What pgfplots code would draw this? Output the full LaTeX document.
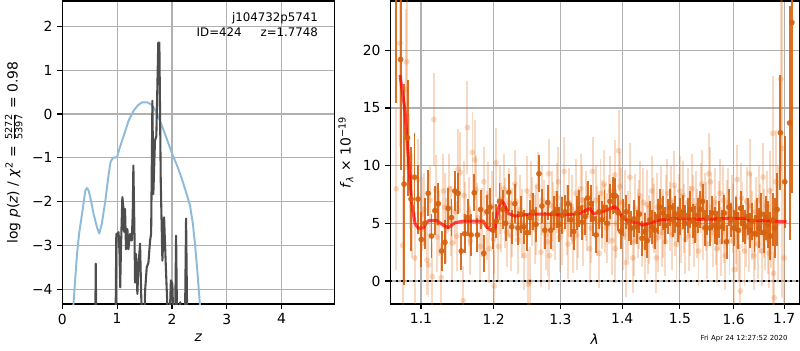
\documentclass[border=0pt]{standalone}
\usepackage{pgfplots}
\pgfplotsset{compat=1.18}
\usepackage{pgfplotstable}
\usepackage{fontspec}
\setmainfont{DejaVu Sans}
\definecolor{dk}{RGB}{214,96,12}
\definecolor{lt}{RGB}{228,108,24}
\definecolor{blu}{RGB}{143,187,217}
\definecolor{blk}{RGB}{77,77,77}
\definecolor{gridc}{RGB}{176,176,176}

\pgfplotstableread{
x y
0.600 -5.0
0.610 -3.42
0.620 -5.0
0.970 -5.0
0.985 -2.74
1.000 -2.74
1.026 -2.70
1.044 -3.20
1.056 -3.96
1.070 -3.05
1.095 -1.90
1.113 -2.13
1.126 -2.69
1.144 -2.17
1.162 -3.09
1.187 -2.63
1.205 -3.09
1.236 -2.74
1.266 -2.89
1.284 -2.30
1.296 -1.18
1.316 -2.74
1.327 -3.85
1.345 -3.20
1.369 -4.11
1.387 -3.50
1.418 -2.96
1.440 -4.20
1.465 -5.0
1.490 -5.0
1.510 -4.03
1.540 -3.50
1.570 -3.40
1.600 -2.90
1.620 -2.73
1.643 0.30
1.660 -1.83
1.690 -0.61
1.715 -0.50
1.750 1.63
1.770 1.63
1.795 -1.52
1.825 -3.35
1.856 -2.36
1.887 -3.45
1.916 -4.40
1.950 -5.0
1.980 -3.80
2.007 -3.88
2.030 -5.0
2.055 -5.0
2.075 -2.78
2.095 -5.0
2.150 -4.30
2.170 -5.0
2.235 -5.0
2.257 -2.39
2.280 -5.0
}\blackcurve

\pgfplotstableread{
x y
0.190 -4.60
0.208 -4.26
0.268 -3.20
0.310 -2.70
0.360 -2.28
0.420 -1.75
0.450 -1.69
0.480 -1.75
0.510 -1.90
0.570 -2.28
0.633 -2.59
0.675 -2.73
0.720 -2.51
0.785 -1.98
0.846 -1.37
0.880 -1.10
0.907 -1.03
0.950 -0.99
0.998 -0.99
1.040 -0.80
1.090 -0.61
1.150 -0.38
1.210 -0.15
1.300 0.075
1.380 0.20
1.455 0.265
1.550 0.265
1.620 0.22
1.680 0.12
1.780 -0.15
1.900 -0.55
2.000 -0.90
2.100 -1.20
2.180 -1.48
2.260 -1.80
2.330 -2.10
2.380 -2.50
2.420 -2.97
2.460 -3.55
2.500 -4.20
2.530 -4.70
}\bluecurve

\pgfplotstableread{
x y
1.0727 17.85
1.0791 14.8
1.0834 10.77
1.0878 6.73
1.0921 5.0
1.0964 4.57
1.1030 4.62
1.1096 5.23
1.1209 5.23
1.1298 4.85
1.1365 4.62
1.1457 5.05
1.1572 5.2
1.1711 5.2
1.1852 5.2
1.1900 4.7
1.1972 4.36
1.2019 4.57
1.2067 6.3
1.2116 6.96
1.2149 6.73
1.2213 5.86
1.2311 5.63
1.2533 5.8
1.2787 5.8
1.3043 5.72
1.3307 5.86
1.3467 6.3
1.3520 5.86
1.3630 5.92
1.3739 6.15
1.3876 6.44
1.3932 6.15
1.4016 5.43
1.4129 5.2
1.4242 5.05
1.4355 4.85
1.4471 5.05
1.4645 5.29
1.4881 5.43
1.5304 5.35
1.5611 5.37
1.5927 5.43
1.6249 5.43
1.6312 5.23
1.6574 5.23
1.7047 5.14
}\redcurve

\pgfplotstableread{
x y e
1.0680 27.0 11.6
1.0735 19.2 9.6
1.0780 8.4 8.7
1.0825 12.4 5.0
1.0870 7.1 4.5
1.0915 9.0 3.8
1.0960 7.1 3.0
1.1005 3.6 2.4
1.1050 5.0 2.2
1.1095 7.6 2.0
1.1140 3.9 1.9
1.1185 6.1 2.1
1.1230 6.7 1.8
1.1275 2.6 1.7
1.1320 3.35 1.9
1.1365 6.3 1.8
1.1410 5.5 1.6
1.1455 7.8 1.7
1.1500 7.6 1.8
1.1545 2.6 1.6
1.1590 4.1 1.7
1.1635 5.5 1.6
1.1680 4.0 1.8
1.1725 7.65 1.6
1.1770 4.0 1.5
1.1815 6.2 1.7
1.1860 2.4 1.6
1.1905 6.0 1.5
1.1950 6.4 1.7
1.1995 4.4 1.6
1.2040 5.2 1.5
1.2085 6.9 1.6
1.2130 6.2 1.7
1.2175 5.0 1.5
1.2220 7.7 1.6
1.2265 4.7 1.5
1.2310 6.7 1.7
1.2355 4.6 1.5
1.2400 5.8 1.6
1.2445 4.7 1.5
1.2490 4.2 1.6
1.2535 5.5 1.5
1.2580 6.0 1.6
1.2625 4.9 1.5
1.2670 9.3 1.6
1.2715 6.5 1.5
1.2760 4.4 1.6
1.2805 6.8 1.5
1.2850 4.4 1.6
1.2895 5.9 1.5
1.2940 6.2 1.6
1.2985 4.9 1.5
1.3030 5.7 1.6
1.3075 6.0 1.5
1.3120 6.7 1.6
1.3165 5.3 1.5
1.3210 4.3 1.6
1.3255 5.9 1.5
1.3300 6.3 1.6
1.3345 5.1 1.5
1.3390 5.6 1.6
1.3435 7.2 1.5
1.3480 6.7 1.6
1.3525 5.4 1.5
1.3570 4.0 1.6
1.3615 6.0 1.5
1.3660 5.3 1.6
1.3705 6.4 1.5
1.3750 5.0 1.6
1.3795 6.9 1.5
1.3840 7.4 1.6
1.3885 7.4 1.5
1.3930 5.9 1.6
1.3975 4.3 1.5
1.4020 5.5 1.6
1.4065 6.0 1.5
1.4110 5.1 1.6
1.4155 4.6 1.5
1.4200 5.4 1.6
1.4245 4.7 1.5
1.4290 5.8 1.6
1.4335 3.7 1.5
1.4380 4.3 1.6
1.4425 3.5 1.5
1.4470 5.3 1.6
1.4515 4.7 1.5
1.4560 4.4 1.6
1.4605 5.6 1.5
1.4650 6.4 1.6
1.4695 5.9 1.5
1.4740 4.8 1.6
1.4785 5.6 1.5
1.4830 6.4 1.6
1.4875 5.3 1.5
1.4920 5.8 1.6
1.4965 4.9 1.5
1.5010 5.6 1.6
1.5055 6.0 1.5
1.5100 5.0 1.6
1.5145 5.7 1.5
1.5190 6.2 1.6
1.5235 5.2 1.5
1.5280 4.9 1.6
1.5325 5.7 1.5
1.5370 6.2 1.6
1.5415 6.9 1.5
1.5460 4.6 1.6
1.5505 5.5 1.5
1.5550 4.6 1.6
1.5595 5.9 1.5
1.5640 4.8 1.6
1.5685 4.6 1.5
1.5730 5.3 1.6
1.5775 4.7 1.5
1.5820 5.9 1.6
1.5865 3.4 1.5
1.5910 6.4 1.6
1.5955 5.3 1.5
1.6000 4.6 1.6
1.6045 5.8 1.5
1.6090 4.4 1.6
1.6135 6.3 1.5
1.6180 5.0 1.6
1.6225 4.7 1.5
1.6270 5.6 1.6
1.6315 4.4 1.5
1.6360 5.2 1.6
1.6405 4.1 1.6
1.6450 5.5 1.7
1.6495 4.6 1.7
1.6540 5.8 1.8
1.6585 4.2 1.8
1.6630 5.5 1.9
1.6675 4.9 2.0
1.6720 3.9 2.1
1.6765 5.3 2.3
1.6810 4.6 2.6
1.6855 6.2 3.2
1.6920 12.85 5.0
1.7010 8.6 4.0
1.7110 13.7 10.1
1.7156 22.4 14.8
}\darkpts

\pgfplotstableread{
x y e
1.0680 8.0 7.0
1.0727 20.6 9.0
1.0760 3.1 6.0
1.0800 16.6 7.0
1.0815 19.0 7.0
1.0850 9.5 5.0
1.0885 6.5 4.5
1.0920 2.0 4.0
1.0960 8.8 3.5
1.1000 4.5 3.0
1.1040 6.2 3.2
1.1080 1.8 3.0
1.1100 1.4 2.8
1.1150 0.4 3.0
1.1172 14.0 4.0
1.1200 7.9 3.0
1.1235 5.0 2.8
1.1270 0.3 3.0
1.1300 7.8 3.2
1.1340 4.4 2.8
1.1380 8.0 3.0
1.1420 3.3 3.2
1.1460 6.0 2.8
1.1500 9.7 3.5
1.1530 9.4 3.5
1.1570 -1.7 3.0
1.1600 5.6 3.0
1.1630 13.3 4.0
1.1670 3.5 3.0
1.1700 11.15 3.5
1.1730 10.5 3.5
1.1770 5.5 3.0
1.1810 3.0 3.0
1.1860 8.6 3.0
1.1900 4.8 3.0
1.1940 2.8 3.0
1.1980 6.5 3.0
1.2010 -0.43 3.0
1.2035 10.25 3.0
1.2070 3.0 3.0
1.2110 5.5 3.0
1.2150 8.0 3.0
1.2190 4.2 3.0
1.2230 6.8 3.0
1.2270 5.1 3.0
1.2310 8.4 3.0
1.2350 3.6 3.0
1.2390 6.2 3.0
1.2450 2.2 3.0
1.2490 7.8 3.0
1.2510 -0.26 3.0
1.2530 -0.06 3.0
1.2570 6.0 3.0
1.2610 4.5 3.0
1.2650 8.2 3.0
1.2700 2.5 3.0
1.2740 5.8 3.0
1.2780 4.0 3.0
1.2820 9.3 3.0
1.2830 2.2 3.0
1.2870 6.5 3.0
1.2910 4.8 3.0
1.2950 7.2 3.0
1.2990 3.8 3.0
1.3060 9.5 3.0
1.3100 5.3 3.0
1.3140 6.8 3.0
1.3200 3.7 3.0
1.3240 7.6 3.0
1.3280 5.0 3.0
1.3320 8.0 3.0
1.3360 4.3 3.0
1.3400 6.5 3.0
1.3467 2.8 3.0
1.3510 9.5 3.0
1.3560 7.0 3.0
1.3620 2.4 3.0
1.3660 5.8 3.0
1.3700 8.4 3.0
1.3740 4.6 3.0
1.3780 6.2 3.0
1.3830 3.5 3.0
1.3876 9.2 3.0
1.3880 2.8 3.0
1.3940 11.3 3.5
1.3980 6.8 3.0
1.4020 4.0 3.0
1.4070 1.6 3.0
1.4130 9.0 3.0
1.4180 2.0 3.0
1.4220 6.3 3.0
1.4260 5.0 3.0
1.4300 7.4 3.0
1.4340 4.2 3.0
1.4380 3.0 3.0
1.4420 6.6 3.0
1.4460 4.5 3.0
1.4500 7.8 3.0
1.4550 5.4 3.0
1.4586 2.0 3.0
1.4620 3.8 3.0
1.4660 7.0 3.0
1.4700 5.0 3.0
1.4740 3.4 3.0
1.4780 7.6 3.0
1.4820 5.6 3.0
1.4860 4.0 3.0
1.4900 8.3 3.0
1.4940 3.2 3.0
1.4980 6.3 3.0
1.5020 4.6 3.0
1.5060 7.4 3.0
1.5100 3.6 3.0
1.5140 6.8 3.0
1.5180 5.2 3.0
1.5220 8.0 3.0
1.5260 4.2 3.0
1.5300 6.5 3.0
1.5340 2.6 3.0
1.5380 7.2 3.0
1.5420 4.8 3.0
1.5460 6.4 3.0
1.5500 3.2 3.0
1.5530 9.3 3.5
1.5560 8.6 3.0
1.5600 4.2 3.0
1.5640 6.8 3.0
1.5680 2.8 3.0
1.5720 5.7 3.0
1.5760 3.4 3.0
1.5800 7.0 3.0
1.5840 2.2 3.0
1.5880 5.8 3.0
1.5920 3.5 3.0
1.5960 6.2 3.0
1.6010 1.0 3.0
1.6040 4.5 3.0
1.6070 8.8 3.0
1.6100 3.0 3.0
1.6130 -0.87 3.5
1.6170 5.6 3.0
1.6210 2.6 3.0
1.6250 6.9 3.0
1.6290 3.8 3.0
1.6310 9.3 3.0
1.6350 4.8 3.0
1.6390 2.2 3.0
1.6430 6.0 3.0
1.6470 3.2 3.0
1.6510 5.4 3.0
1.6550 2.6 3.0
1.6574 9.0 3.0
1.6610 4.0 3.0
1.6650 6.5 3.0
1.6690 2.4 3.0
1.6730 4.6 3.5
1.6770 12.8 5.0
1.6780 0.67 3.5
1.6800 -1.45 4.0
1.6830 8.6 4.5
1.6870 5.0 5.0
1.6930 17.5 8.0
1.6960 11.5 13.0
1.7000 2.0 6.0
1.1020 5.8 3.2
1.1120 7.0 3.0
1.1215 3.8 3.0
1.1320 6.4 3.0
1.1400 5.2 3.0
1.1480 3.9 3.0
1.1585 7.4 3.0
1.1650 6.0 3.0
1.1750 7.9 3.0
1.1835 5.1 3.0
1.1920 7.3 3.0
1.2000 3.6 3.0
1.2090 7.1 3.0
1.2170 5.9 3.0
1.2250 3.9 3.0
1.2330 6.9 3.0
1.2420 5.0 3.0
1.2550 7.4 3.0
1.2630 5.3 3.0
1.2720 7.0 3.0
1.2800 3.4 3.0
1.2890 5.6 3.0
1.2970 8.6 3.0
1.3030 4.4 3.0
1.3120 3.2 3.0
1.3180 6.2 3.0
1.3260 4.0 3.0
1.3340 7.0 3.0
1.3420 5.6 3.0
1.3490 4.6 3.0
1.3580 5.2 3.0
1.3640 7.6 3.0
1.3720 5.4 3.0
1.3800 7.8 3.0
1.3900 5.0 3.0
1.3960 8.2 3.0
1.4040 6.6 3.0
1.4100 4.8 3.0
1.4200 3.4 3.0
1.4280 5.8 3.0
1.4360 6.8 3.0
1.4440 3.6 3.0
1.4520 5.9 3.0
1.4600 6.4 3.0
1.4680 4.2 3.0
1.4760 6.2 3.0
1.4840 7.0 3.0
1.4920 5.2 3.0
1.5000 7.8 3.0
1.5080 5.4 3.0
1.5160 3.9 3.0
1.5240 6.2 3.0
1.5320 5.0 3.0
1.5400 8.4 3.0
1.5480 5.6 3.0
1.5580 6.4 3.0
1.5660 4.4 3.0
1.5740 7.6 3.0
1.5820 4.6 3.0
1.5900 6.8 3.0
1.5990 5.4 3.0
1.6060 3.8 3.0
1.6150 7.2 3.0
1.6230 4.2 3.0
1.6330 6.4 3.0
1.6410 4.0 3.0
1.6490 7.0 3.0
1.6590 5.0 3.0
1.6670 3.6 3.0
1.6710 7.8 3.5
}\lightpts

\pgfplotsset{
  common/.style={
    scale only axis, height=218.16pt, anchor=south west,
    axis line style={black, line width=0.8pt},
    tick align=outside, tick pos=left, major tick length=3.5pt,
    tick style={black, line width=0.8pt},
    grid=major, grid style={gridc, line width=0.8pt},
    ticklabel style={font=\fontsize{10}{12}\selectfont},
    label style={font=\fontsize{10}{12}\selectfont},
    /pgf/number format/assume math mode=true,
  }
}

\begin{document}
\begin{tikzpicture}
\begin{axis}[common, at={(44.86pt,33.12pt)}, width=195.84pt,
  xmin=0, xmax=4.96, ymin=-4.34, ymax=2.58,
  xtick={0,1,2,3,4}, ytick={-4,-3,-2,-1,0,1,2},
  yticklabels={−4,−3,−2,−1,0,1,2},
  xlabel={\textit{z}},
  ylabel={log \textit{p}(\textit{z}) / \textit{χ}\textsuperscript{2} = $\frac{\mbox{\fontsize{7}{8}\selectfont 5272}}{\mbox{\fontsize{7}{8}\selectfont 5397}}$ = 0.98},
]
\addplot[blu, line width=1.4pt, line join=round] table[x=x,y=y] {\bluecurve};
\addplot[blk, line width=1.5pt, line join=round] table[x=x,y=y] {\blackcurve};
\node[anchor=north east, align=right, inner sep=0pt, font=\fontsize{8.5}{10.8}\selectfont] at (rel axis cs:0.941,0.962) {j104732p5741\\ID=424\hspace{1.6em}z=1.7748};
\end{axis}

\begin{axis}[common, at={(281.0pt,33.12pt)}, width=294.48pt,
  xmode=log, xmin=1.0603, xmax=1.7309, ymin=-1.99, ymax=24.27,
  xtick={1.1,1.2,1.3,1.4,1.5,1.6,1.7},
  xticklabels={1.1,1.2,1.3,1.4,1.5,1.6,1.7},
  minor xtick={},
  ytick={0,5,10,15,20},
  xlabel={\textit{λ}},
  ylabel={\textit{f}\textsubscript{\textit{λ}} × 10\textsuperscript{−19}},
]
\addplot[color=lt, opacity=0.26, only marks, mark=*, mark size=2.1pt,
  mark options={draw opacity=0, fill=lt},
  error bars/.cd, y dir=both, y explicit, error mark=none,
  error bar style={line width=1.4pt, color=lt}]
  table[x=x, y=y, y error=e] {\lightpts};
\addplot[color=dk, opacity=0.9, only marks, mark=*, mark size=2.1pt,
  mark options={draw opacity=0, fill=dk},
  error bars/.cd, y dir=both, y explicit, error mark=none,
  error bar style={line width=1.4pt, color=dk}]
  table[x=x, y=y, y error=e] {\darkpts};
\addplot[black, line width=1.1pt, dash pattern=on 1.5pt off 2.5pt] coordinates {(1.0603,0) (1.7309,0)};
\addplot[red, opacity=0.7, line width=2.2pt, line join=round] table[x=x,y=y] {\redcurve};
\end{axis}

\node[font=\fontsize{5}{6}\selectfont] at (535.7pt,7.9pt) {Fri Apr 24 12:27:52 2020};
\pgfresetboundingbox
\path[use as bounding box] (0,0) rectangle (576pt,252pt);
\end{tikzpicture}
\end{document}
